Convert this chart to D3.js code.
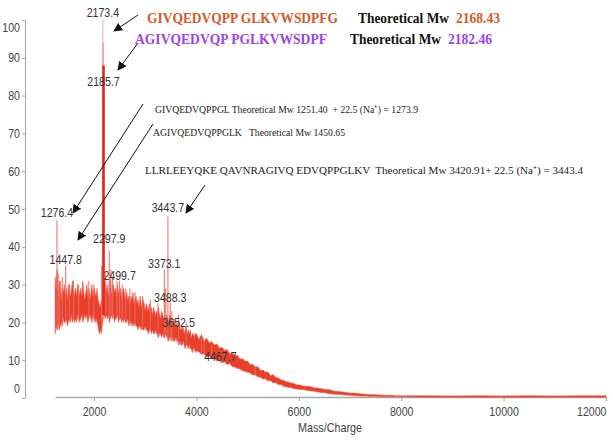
<!DOCTYPE html>
<html>
<head>
<meta charset="utf-8">
<script src="https://cdn.jsdelivr.net/npm/d3@7"></script>
<style>
  body { margin: 0; background: #fff; }
  svg { display: block; }
  .axis text, .plbl { font-family: "Liberation Sans", Arial, sans-serif; }
  .note { font-family: "Liberation Serif", "Times New Roman", serif; }
</style>
</head>
<body>
<div id="chart"></div>
<script>
// Axis ticks
const xTicks = [2000, 4000, 6000, 8000, 10000, 12000];
const yTicks = [0, 10, 20, 30, 40, 50, 60, 70, 80, 90, 100];

// Noisy baseline envelope (upper / lower intensity)
const mzA = d3.range(1240, 4000, 20);
const hiA = [32,29,34,27,30,31,26,29,28,30, 27,29,26,30,28,27,29,31,26,28,
  29,27,30,26,28,29,27,31,28,26, 28,30,27,29,26,28,30,27,29,28,
  27,29,26,25,24,26,25,29,31,30, 28,30,27,29,31,28,27,30,28,29,
  27,30,28,27,29,26,28,29,27,26, 28,26,27,25,27,26,28,25,26,27,
  25,26,24,27,25,24,26,25,23,25, 24,23,25,23,24,22,24,23,22,23,
  22,24,22,21,23,22,21,22,20,22, 21,20,22,20,21,19,21,20,19,20,
  19,20,18,19,18,19,17,18,19,17, 18,17,18,16,17,17,16,17];
const loA = [17,19,18,20,18,19,20,19,21,20, 20,21,19,20,21,20,22,20,21,20,
  21,20,22,21,20,21,22,20,21,22, 21,22,20,21,22,21,20,22,21,20,
  21,20,19,17,18,17,19,21,22,21, 22,21,22,20,21,22,21,22,20,21,
  21,22,20,21,21,20,21,20,21,20, 20,21,19,20,20,19,20,19,20,19,
  19,18,19,19,18,19,18,18,19,18, 18,17,18,18,17,18,17,17,18,17,
  17,16,17,17,16,17,16,16,17,16, 16,15,16,16,15,16,15,15,16,15,
  15,14,15,14,14,15,14,13,14,14, 13,14,13,13,12,13,13,12];

const mzB = d3.range(4000, 6000, 50);
const hiB = [17,15.5,16.8,15,15.8,14.6,14.9,14,14.3,13.2, 13.4,12.6,12.8,11.7,12,11.2,11.3,10.3,10.4,9.7,
  9.8,8.8,8.9,8.2,8.3,7.3,7.4,6.8,6.9,5.9, 6.2,5.4,5.3,4.8,4.7,4.3,4.2,3.9,3.9,3.5];
const loB = [12.5,12.2,11.6,11.7,10.8,11.1,10.3,10.6,9.8,10.1, 9.3,9.6,8.8,9.1,8.3,8.2,7.8,7.7,7.2,7.1,
  6.8,6.6,6.1,6.1,5.6,5.5,5,5.1,4.5,4.6, 4,4.1,3.5,3.6,3.1,3,2.8,2.7,2.5,2.4];

const mzC = d3.range(6000, 8000, 100);
const hiC = [3.5,3.1,3.1,2.7,2.6,2.3,2.2,1.8,1.7,1.5, 1.3,1.3,1.1,1.0,0.9,0.85,0.8,0.7,0.7,0.6];
const loC = [2.3,2.2,1.9,1.8,1.5,1.4,1.1,1.0,0.9,0.8, 0.7,0.6,0.5,0.5,0.4,0.4,0.3,0.3,0.3,0.3];

const mzD = [8000, 8500, 9000, 9500, 10000, 10500, 11000, 11500, 12000];
const hiD = [0.6, 0.6, 0.55, 0.6, 0.55, 0.6, 0.55, 0.6, 0.6];
const loD = [0.3, 0.2, 0.2, 0.2, 0.2, 0.2, 0.2, 0.2, 0.2];

// Peaks sticking out of the baseline
const peakMz  = [1276.4, 1300, 1330, 1380, 1447.8, 1520, 1600, 1700, 1900, 2000, 2150, 2173.4, 2180, 2185.7,
  2230, 2297.9, 2330, 2360, 2450, 2499.7, 2550, 2620, 2700, 2800, 2950, 3100, 3250,
  3373.1, 3400, 3443.7, 3488.3, 3520, 3652.5, 3800, 4100, 4150, 4300, 4467.7, 5150, 5400];
const peakInt = [47, 33, 31, 32, 35, 30, 31, 30, 31, 30, 35, 100, 94, 88,
  33, 39, 34, 32, 31, 31, 30, 29, 29, 28, 27, 26, 25,
  34, 29, 48, 26, 23, 22, 20, 16, 15, 14, 12.5, 8, 5];

// Labelled peaks and the intensity level where each label sits
const labelMz = [1276.4, 1447.8, 2173.4, 2185.7, 2297.9, 2499.7, 3373.1, 3443.7, 3488.3, 3652.5, 4467.7];
const labelAt = [47.9, 35.4, 100.8, 82.5, 41, 31.2, 34.4, 49.2, 25.4, 18.8, 9.8];

const W = 613, H = 440;
const svg = d3.select('#chart').append('svg').attr('width', W).attr('height', H);

const x = d3.scaleLinear().domain([1238, 12000]).range([55, 606]);
const y = d3.scaleLinear().domain([0, 100]).range([398, 20]);

// narrow-ish text: squeeze the sans labels to the reference widths
const narrow = s => d3.sum(String(s).split(''), ch => ch === '.' ? 2.9 : ch === '/' ? 3.5 : 5.9);

// build band
const band = [];
mzA.forEach((m, i) => band.push({ mz: m, hi: hiA[i], lo: loA[i] }));
mzB.forEach((m, i) => band.push({ mz: m, hi: hiB[i], lo: loB[i] }));
mzC.forEach((m, i) => band.push({ mz: m, hi: hiC[i], lo: loC[i] }));
mzD.forEach((m, i) => band.push({ mz: m, hi: hiD[i], lo: loD[i] }));

// axes
const gx = svg.append('g').attr('class', 'axis').attr('transform', 'translate(0,397)');
gx.call(d3.axisBottom(x).tickValues(d3.range(1500, 12001, 500)).tickSize(3).tickSizeOuter(0).tickFormat(''));
gx.call(d3.axisBottom(x).tickValues(xTicks).tickSize(4).tickSizeOuter(0).tickFormat(d3.format('d')));
gx.selectAll('path, line').attr('stroke', '#a8a8a8');
gx.select('.domain').attr('stroke-width', 1.6);
gx.selectAll('text').attr('font-size', 13).attr('fill', '#444').attr('dy', '0.95em')
  .attr('textLength', d => narrow(d)).attr('lengthAdjust', 'spacingAndGlyphs')
  .attr('text-anchor', d => d === 12000 ? 'end' : 'middle');

const gy = svg.append('g').attr('class', 'axis').attr('transform', 'translate(25,0)');
gy.call(d3.axisLeft(y).tickValues(d3.range(0, 101, 2)).tickSize(2).tickSizeOuter(0).tickFormat(''));
gy.call(d3.axisLeft(y).tickValues(yTicks).tickSize(3).tickSizeOuter(0));
gy.selectAll('path, line').attr('stroke', '#a8a8a8');
gy.selectAll('text').attr('font-size', 13).attr('fill', '#444').attr('x', -5)
  .attr('textLength', d => narrow(d)).attr('lengthAdjust', 'spacingAndGlyphs')
  .attr('transform', d => d === 100 ? 'translate(0,7)' : d === 0 ? 'translate(0,-10)' : null);

svg.append('text').attr('class', 'plbl')
  .attr('x', 330).attr('y', 432).attr('text-anchor', 'middle')
  .attr('font-size', 13).attr('fill', '#444')
  .attr('textLength', 64).attr('lengthAdjust', 'spacingAndGlyphs')
  .text('Mass/Charge');

// noise band
svg.append('path').datum(band)
  .attr('d', d3.area().x(d => x(d.mz)).y0(d => y(d.lo)).y1(d => y(d.hi)))
  .attr('fill', '#e8402b').attr('stroke', '#ee5e4e').attr('stroke-width', 0.6);

// peaks
const bis = d3.bisector(d => d.mz).left;
const baseAt = m => band[Math.min(band.length - 1, bis(band, m))].lo;
const peaks = peakMz.map((m, i) => ({ mz: m, v: peakInt[i] }));
svg.selectAll('line.peak').data(peaks).enter().append('line')
  .attr('class', 'peak')
  .attr('x1', d => x(d.mz)).attr('x2', d => x(d.mz))
  .attr('y1', d => y(baseAt(d.mz))).attr('y2', d => y(d.v))
  .attr('stroke', d => d.v >= 99 ? '#f4aaaa' : d.v >= 90 ? '#ee8a82' : d.v > 80 ? '#e3261b' : '#ec6a5c')
  .attr('stroke-width', d => d.v > 80 && d.v < 90 ? 2.6 : 1);

// peak labels
svg.selectAll('text.pk').data(labelMz).enter().append('text')
  .attr('class', 'plbl pk')
  .attr('x', d => x(d)).attr('y', (d, i) => y(labelAt[i]))
  .attr('text-anchor', 'middle').attr('font-size', 13).attr('fill', '#333')
  .attr('textLength', d => narrow(d.toFixed(1))).attr('lengthAdjust', 'spacingAndGlyphs')
  .text(d => d.toFixed(1));

// arrows
svg.append('defs').append('marker')
  .attr('id', 'ah').attr('viewBox', '0 0 10 10').attr('refX', 9).attr('refY', 5)
  .attr('markerWidth', 9).attr('markerHeight', 9).attr('markerUnits', 'userSpaceOnUse')
  .attr('orient', 'auto')
  .append('path').attr('d', 'M0,0L10,5L0,10z').attr('fill', '#111');
const arrows = [[138, 15, 114, 31], [138, 43, 118, 70], [143, 104, 73, 213], [153, 124, 78, 240], [205, 185, 186, 213]];
svg.selectAll('line.arr').data(arrows).enter().append('line')
  .attr('x1', d => d[0]).attr('y1', d => d[1]).attr('x2', d => d[2]).attr('y2', d => d[3])
  .attr('stroke', '#111').attr('stroke-width', 1).attr('marker-end', 'url(#ah)');

// title annotations
const orange = '#d35a2a', purple = '#9b45e6';
const heads = [
  { x: 147, y: 23, t: 'GIVQEDVQPP GLKVWSDPFG', c: orange, w: 191 },
  { x: 358, y: 23, t: 'Theoretical Mw', c: '#111', w: 91 },
  { x: 456, y: 23, t: '2168.43', c: orange, w: 44 },
  { x: 135, y: 44, t: 'AGIVQEDVQP PGLKVWSDPF', c: purple, w: 192 },
  { x: 350, y: 44, t: 'Theoretical Mw', c: '#111', w: 91 },
  { x: 448, y: 44, t: '2182.46', c: purple, w: 44 }
];
svg.selectAll('text.head').data(heads).enter().append('text')
  .attr('class', 'note head').attr('x', d => d.x).attr('y', d => d.y)
  .attr('font-size', 15).attr('font-weight', 'bold').attr('fill', d => d.c)
  .attr('textLength', d => d.w).attr('lengthAdjust', 'spacingAndGlyphs')
  .text(d => d.t);

const notes = [
  { x: 155, y: 113, w: 263, t: 'GIVQEDVQPPGL Theoretical Mw 1251.40  + 22.5 (Na\u207A) = 1273.9' },
  { x: 153, y: 136, w: 192, t: 'AGIVQEDVQPPGLK   Theoretical Mw 1450.65' },
  { x: 145, y: 174, w: 438, t: 'LLRLEEYQKE QAVNRAGIVQ EDVQPPGLKV  Theoretical Mw 3420.91+ 22.5 (Na\u207A) = 3443.4' }
];
svg.selectAll('text.sn').data(notes).enter().append('text')
  .attr('class', 'note sn').attr('x', d => d.x).attr('y', d => d.y)
  .attr('font-size', 11).attr('fill', '#222').attr('xml:space', 'preserve')
  .style('white-space', 'pre')
  .attr('textLength', d => d.w).attr('lengthAdjust', 'spacingAndGlyphs')
  .text(d => d.t);
</script>
</body>
</html>
